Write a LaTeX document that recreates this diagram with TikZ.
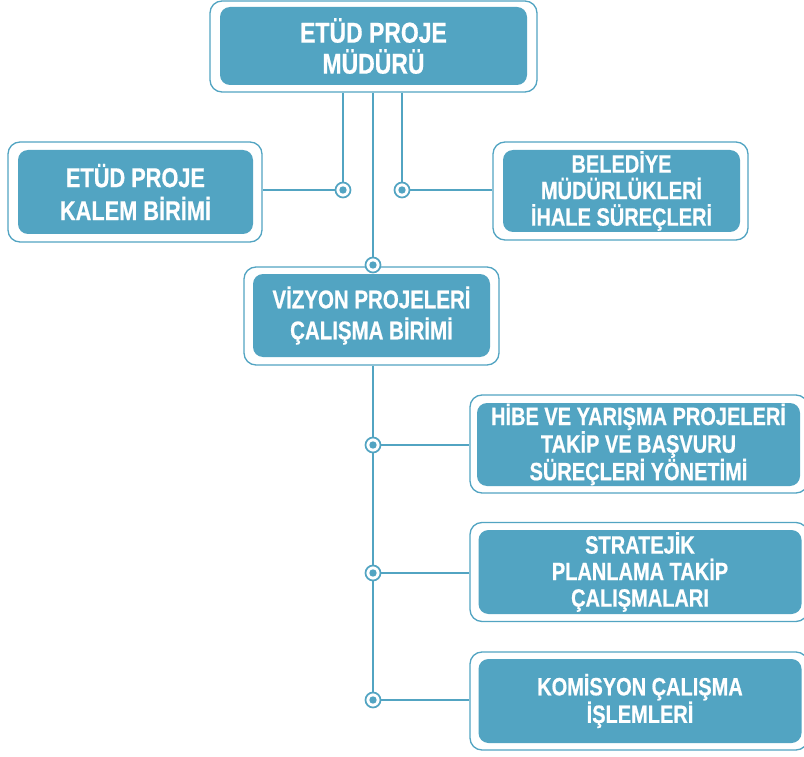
\documentclass[tikz,border=0pt]{standalone}
\usepackage{fontspec}
\newfontfamily\kutufont{Liberation Sans}[FakeStretch=0.8,FakeBold=0.6]
\definecolor{mavi}{RGB}{82,164,194}

\begin{document}
\begin{tikzpicture}[x=1pt,y=-1pt] % 1pt = 1px
\tikzstyle{cerceve} = [draw=mavi, line width=1.3pt, rounded corners=12pt, fill=white, inner sep=0pt] % dis cerceve
\tikzstyle{kutu} = [fill=mavi, rounded corners=10pt, text=white, align=center, inner sep=0pt] % dolu kutu
\tikzstyle{hat} = [draw=mavi, line width=1.3pt] % baglanti cizgisi
\tikzstyle{nokta} = [circle, draw=mavi, line width=1.7pt, fill=white, minimum size=15pt, inner sep=0pt,
  path picture={\fill[mavi] (path picture bounding box.center) circle (3.7pt);}] % baglanti noktasi
\useasboundingbox (0,0) rectangle (804,757);

% ust kutu
\node[cerceve, minimum width=327pt, minimum height=91pt] (mudur-c) at (373.5,46.5) {};
\node[kutu, minimum width=307pt, minimum height=78pt, font=\kutufont\bfseries\fontsize{28.7}{31}\selectfont] (mudur) at (373.5,46) {ETÜD PROJE\\MÜDÜRÜ};

% yan kutular
\node[cerceve, minimum width=254pt, minimum height=100pt] (kalem-c) at (135,192) {};
\node[kutu, minimum width=235pt, minimum height=84pt, font=\kutufont\bfseries\fontsize{27.2}{33}\selectfont] (kalem) at (135.5,192) {ETÜD PROJE\\KALEM BİRİMİ};
\node[cerceve, minimum width=255pt, minimum height=98pt] (ihale-c) at (620.5,191) {};
\node[kutu, minimum width=237pt, minimum height=82pt, font=\kutufont\bfseries\fontsize{25}{26.5}\selectfont] (ihale) at (621.5,191) {BELEDİYE\\MÜDÜRLÜKLERİ\\İHALE SÜREÇLERİ};

% orta kutu
\node[cerceve, minimum width=255pt, minimum height=98pt] (vizyon-c) at (371.5,316) {};
\node[kutu, minimum width=237pt, minimum height=83pt, font=\kutufont\bfseries\fontsize{25.6}{31}\selectfont] (vizyon) at (371.5,315.5) {VİZYON PROJELERİ\\ÇALIŞMA BİRİMİ};

% alt kutular
\node[cerceve, minimum width=338pt, minimum height=98pt] (hibe-c) at (639,444) {};
\node[kutu, minimum width=323pt, minimum height=83pt, font=\kutufont\bfseries\fontsize{25}{26.5}\selectfont] (hibe) at (638.5,444.5) {HİBE VE YARIŞMA PROJELERİ\\TAKİP VE BAŞVURU\\SÜREÇLERİ YÖNETİMİ};
\node[cerceve, minimum width=338pt, minimum height=99pt] (strateji-c) at (639,572) {};
\node[kutu, minimum width=323pt, minimum height=84pt, font=\kutufont\bfseries\fontsize{25}{26.5}\selectfont] (strateji) at (640,572) {STRATEJİK\\PLANLAMA TAKİP\\ÇALIŞMALARI};
\node[cerceve, minimum width=338pt, minimum height=98pt] (komisyon-c) at (639,701) {};
\node[kutu, minimum width=323pt, minimum height=84pt, font=\kutufont\bfseries\fontsize{25}{26.5}\selectfont] (komisyon) at (640,701) {KOMİSYON ÇALIŞMA\\İŞLEMLERİ};

% baglantilar
\coordinate (n1) at (343,190);
\coordinate (n2) at (402,190);
\coordinate (n3) at (373,265);
\coordinate (n4) at (373,445);
\coordinate (n5) at (373,573);
\coordinate (n6) at (373,700);
\draw[hat] (mudur-c.south -| n1) -- (n1) -- (n1 -| kalem-c.east);
\draw[hat] (mudur-c.south -| n2) -- (n2) -- (n2 -| ihale-c.west);
\draw[hat] (mudur-c.south -| n3) -- (n3);
\draw[hat] (vizyon-c.south -| n3) -- (n6);
\foreach \n/\k in {n4/hibe-c, n5/strateji-c, n6/komisyon-c}
  \draw[hat] (\n) -- (\n -| \k.west);
\foreach \i in {1,...,6}
  \node[nokta] (d\i) at (n\i) {};
\end{tikzpicture}
\end{document}
